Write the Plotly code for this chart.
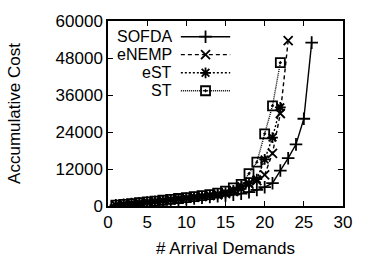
import plotly.graph_objects as go

x_sofda = list(range(1, 27))
y_sofda = [200, 420, 640, 860, 1080, 1300, 1530, 1760, 1990, 2220, 2450, 2690, 2930,
           3180, 3430, 3700, 4000, 4500, 5200, 6100, 7400, 11500, 15500, 20000, 28300, 53000]

x_enemp = list(range(1, 24))
y_enemp = [240, 490, 740, 990, 1240, 1490, 1750, 2010, 2270, 2530, 2800, 3070, 3350,
           3650, 4050, 4700, 5600, 7100, 8200, 10100, 17100, 30000, 53600]

x_est = list(range(1, 23))
y_est = [250, 500, 760, 1020, 1280, 1540, 1800, 2070, 2340, 2620, 2900, 3190, 3500,
         3850, 4300, 5100, 6500, 7400, 8700, 15100, 22200, 32000]

x_st = list(range(1, 23))
y_st = [260, 520, 780, 1050, 1320, 1590, 1870, 2150, 2440, 2740, 3050, 3370, 3720,
        4150, 4850, 5900, 7000, 10500, 14200, 23400, 32500, 46500]

names = ["SOFDA", "eNEMP", "eST", "ST"]
x_ticks = [0, 5, 10, 15, 20, 25, 30]
y_ticks = [0, 12000, 24000, 36000, 48000, 60000]

styles = [
    dict(dash="solid", symbol="cross-thin", size=9),
    dict(dash="4px,3px", symbol="x-thin", size=9),
    dict(dash="2px,2px", symbol="asterisk", size=9),
    dict(dash="1px,1px", symbol="square-open-dot", size=9),
]
series = [(x_sofda, y_sofda), (x_enemp, y_enemp), (x_est, y_est), (x_st, y_st)]

FONT = "Liberation Sans, Arial, sans-serif"
FS = 17
fig = go.Figure()
for (xs, ys), st in zip(series, styles):
    fig.add_trace(go.Scatter(
        x=xs, y=ys, mode="lines+markers",
        line=dict(color="black", width=1.4, dash=st["dash"]),
        marker=dict(symbol=st["symbol"], size=st["size"], color="black",
                    line=dict(color="black", width=1.8)),
        showlegend=False, xaxis="x", yaxis="y"))

# custom legend (gnuplot style: text then sample)
row_y = [0.915, 0.818, 0.72, 0.623]
for name, st, ry in zip(names, styles, row_y):
    fig.add_trace(go.Scatter(
        x=[0.31, 0.415, 0.52], y=[ry, ry, ry], mode="lines",
        line=dict(color="black", width=1.4, dash=st["dash"]),
        showlegend=False, xaxis="x2", yaxis="y2", hoverinfo="skip"))
    fig.add_trace(go.Scatter(
        x=[0.415], y=[ry], mode="markers",
        marker=dict(symbol=st["symbol"], size=st["size"], color="black",
                    line=dict(color="black", width=1.8)),
        showlegend=False, xaxis="x2", yaxis="y2", hoverinfo="skip"))
    fig.add_annotation(x=0.275, y=ry, xref="x2", yref="y2", text=name,
                       showarrow=False, xanchor="right", yanchor="middle",
                       borderpad=0,
                       font=dict(family=FONT, size=16, color="black"))

fig.add_annotation(x=0.5, y=-0.232, xref="paper", yref="paper", text="# Arrival Demands",
                   showarrow=False, xanchor="center", yanchor="middle",
                   font=dict(family=FONT, size=FS, color="black"))
fig.add_annotation(x=-0.396, y=0.503, xref="paper", yref="paper", text="Accumulative Cost",
                   showarrow=False, xanchor="center", yanchor="middle", textangle=-90,
                   font=dict(family=FONT, size=FS, color="black"))

axis_common = dict(showline=True, linecolor="black", linewidth=1.5, mirror="allticks",
                   ticks="inside", ticklen=5, tickcolor="black", tickwidth=1,
                   showgrid=False, zeroline=False, automargin=False,
                   tickfont=dict(family=FONT, size=FS, color="black"))
fig.update_layout(
    width=375, height=263,
    margin=dict(l=108, r=32, t=21, b=57),
    paper_bgcolor="white", plot_bgcolor="white",
    xaxis=dict(range=[0, 30], tickvals=x_ticks, **axis_common),
    yaxis=dict(range=[0, 60000], tickvals=y_ticks, ticktext=[str(v) for v in y_ticks],
               **axis_common),
    xaxis2=dict(range=[0, 1], overlaying="x", visible=False, fixedrange=True),
    yaxis2=dict(range=[0, 1], overlaying="y", visible=False, fixedrange=True),
)
fig.write_html("out.html")
